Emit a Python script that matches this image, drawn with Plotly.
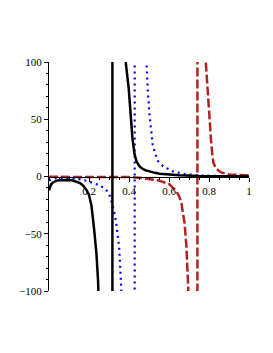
import plotly.graph_objects as go

# ---- data ----
black_x = [0.0, 0.005, 0.01, 0.02, 0.035, 0.05, 0.08, 0.1, 0.12, 0.14, 0.155, 0.17, 0.18,
           0.19, 0.2, 0.212, 0.225, 0.237, 0.245, 0.248,
           0.317, 0.317,
           0.382, 0.3835, 0.3985, 0.41, 0.417, 0.427, 0.437, 0.45, 0.462, 0.48, 0.5035,
           0.53, 0.553, 0.6, 0.65, 0.75, 0.85, 1.0]
black_y = [-12, -9, -7, -5.2, -3.8, -3.2, -2.9, -3.0, -3.5, -4.4, -5.7, -7.8, -9.9,
           -12.5, -16, -25, -45, -67, -90, -105,
           -1000, 1000,
           105, 100, 77, 48, 34, 20, 13.5, 9.5, 7.4, 5.6, 4.2,
           3.2, 2.5, 1.6, 1.0, 0.4, 0.15, 0.05]

blue_x = [0.0, 0.03, 0.08, 0.12, 0.155, 0.19, 0.22, 0.25, 0.28, 0.3, 0.31, 0.32, 0.3285,
          0.337, 0.345, 0.35, 0.3535, 0.357, 0.36, 0.362, 0.363,
          0.4285, 0.4285,
          0.486, 0.487, 0.491, 0.495, 0.5035, 0.512, 0.5185, 0.5285, 0.545, 0.57,
          0.62, 0.678, 0.753, 0.9, 1.0]
blue_y = [-3.5, -1.5, -1.0, -1.5, -2.5, -3.8, -5.5, -7.5, -10.5, -15, -20, -26, -33,
          -42, -52, -61, -70, -80, -88, -99, -105,
          -1000, 1000,
          105, 100, 89, 72, 52, 38, 28, 21.5, 13.4, 9,
          4.4, 2.2, 0.9, 0.2, 0.1]

red_x = [0.0, 0.2, 0.4, 0.45, 0.5, 0.55, 0.6, 0.62, 0.637, 0.65, 0.662, 0.667, 0.678,
         0.687, 0.6935, 0.697, 0.698,
         0.742, 0.742,
         0.782, 0.783, 0.788, 0.795, 0.80, 0.804, 0.81, 0.816, 0.822, 0.835, 0.86,
         0.9, 0.95, 1.0]
red_y = [-0.3, -0.3, -0.5, -1.0, -2.2, -3.6, -6.5, -10, -13, -17, -23, -29, -41,
         -61, -81, -100, -105,
         -1000, 1000,
         105, 102, 88, 72, 55, 48, 32, 20, 12, 7, 3.6,
         1.8, 1.2, 0.9]

x_ticks = [0.2, 0.4, 0.6, 0.8, 1]
x_tick_labels = ["0.2", "0.4", "0.6", "0.8", "1"]
y_ticks = [-100, -50, 0, 50, 100]
y_tick_labels = ["\u2212100", "\u221250", "0", "50", "100"]

fig = go.Figure()
fig.add_trace(go.Scatter(x=red_x, y=red_y, mode="lines",
                         line=dict(color="#B22222", width=2.5, dash="9px,3px")))
fig.add_trace(go.Scatter(x=blue_x, y=blue_y, mode="lines",
                         line=dict(color="#0000FF", width=2.2, dash="2px,4px")))
fig.add_trace(go.Scatter(x=black_x, y=black_y, mode="lines",
                         line=dict(color="black", width=2.5)))

font = dict(family="Liberation Serif", size=11, color="black")
fig.update_layout(
    width=273, height=353,
    margin=dict(l=41, r=32, t=54, b=70),
    paper_bgcolor="white", plot_bgcolor="white",
    showlegend=False,
    font=font,
    xaxis=dict(range=[0, 1], showgrid=False, zeroline=False,
               showline=True, linecolor="black", linewidth=1,
               anchor="free", position=0.5,
               tickmode="array", tickvals=x_ticks, ticktext=x_tick_labels,
               ticks="outside", ticklen=4, tickcolor="black", tickwidth=1,
               minor=dict(dtick=0.05, ticks="outside", ticklen=2, tickcolor="black"),
               tickfont=font),
    yaxis=dict(range=[-100, 100], showgrid=False, zeroline=False,
               showline=True, linecolor="black", linewidth=1,
               tickmode="array", tickvals=y_ticks, ticktext=y_tick_labels,
               ticks="outside", ticklen=4, tickcolor="black", tickwidth=1,
               minor=dict(dtick=10, ticks="outside", ticklen=2, tickcolor="black"),
               tickfont=font),
)

fig.write_html("out.html")
